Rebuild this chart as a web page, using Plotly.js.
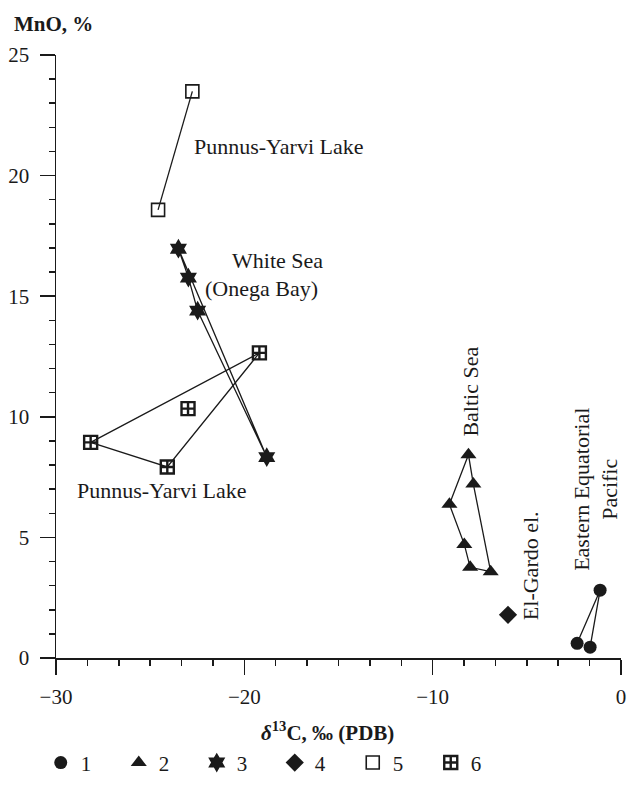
<!DOCTYPE html>
<html><head><meta charset="utf-8">
<script src="https://cdn.plot.ly/plotly-3.0.1.min.js"></script>
<style>html,body{margin:0;padding:0;background:#fff;}#chart{width:627px;height:790px;}</style>
</head><body><div id="chart"></div>
<script>
// Series 1: Eastern Equatorial Pacific (filled circles)
const s1x = [-2.33, -1.11, -1.64];
const s1y = [0.61, 2.81, 0.45];
const s1path = [0, 1, 2];
// Series 2: Baltic Sea (filled triangles)
const s2x = [-8.10, -7.84, -6.92, -8.01, -8.32, -9.11];
const s2y = [8.43, 7.21, 3.58, 3.76, 4.71, 6.37];
const s2path = [0, 1, 2, 3, 4, 5, 0];
// Series 3: White Sea, Onega Bay (six-pointed stars)
const s3x = [-23.50, -22.97, -22.48, -18.81];
const s3y = [16.97, 15.77, 14.40, 8.33];
const s3path = [0, 1, 2, 3, 0];
// Series 4: El-Gardo el. (diamond)
const s4x = [-6.00];
const s4y = [1.79];
const s4path = [];
// Series 5: Punnus-Yarvi Lake (open squares)
const s5x = [-22.76, -24.58];
const s5y = [23.49, 18.58];
const s5path = [0, 1];
// Series 6: Punnus-Yarvi Lake (squares with cross)
const s6x = [-28.16, -19.20, -24.09, -22.99];
const s6y = [8.94, 12.65, 7.92, 10.34];
const s6path = [0, 1, 2, 0];

const seriesNames = ['1', '2', '3', '4', '5', '6'];
const xTickVals = [-30, -20, -10, 0];
const yTickVals = [0, 5, 10, 15, 20, 25];

const labelTexts = ['Punnus-Yarvi Lake', 'White Sea', '(Onega Bay)', 'Punnus-Yarvi Lake',
  'Baltic Sea', 'El-Gardo el.', 'Eastern Equatorial<br>Pacific'];
const labelX = [-22.78, -20.76, -22.19, -28.99, -8.01, -4.83, -1.37];
const labelY = [21.22, 16.47, 15.33, 6.94, 11.05, 3.81, 6.98];

const INK = '#1a1a1a';
const FONT = 'Liberation Serif, Times New Roman, serif';

const series = [
  {x: s1x, y: s1y, path: s1path, sym: 'circle', size: 13, lw: 0},
  {x: s2x, y: s2y, path: s2path, sym: 'triangle-up', size: 14, lw: 0},
  {x: s3x, y: s3y, path: s3path, sym: 'hexagram', size: 15, lw: 0},
  {x: s4x, y: s4y, path: s4path, sym: 'diamond', size: 14, lw: 0},
  {x: s5x, y: s5y, path: s5path, sym: 'square-open', size: 13, lw: 1.6},
  {x: s6x, y: s6y, path: s6path, sym: 'square-cross-open', size: 13, lw: 2.4}
];

const traces = [];
series.forEach((s, i) => {
  if (s.path.length) {
    traces.push({
      x: s.path.map(k => s.x[k]), y: s.path.map(k => s.y[k]),
      mode: 'lines', type: 'scatter', showlegend: false, hoverinfo: 'skip',
      line: {color: INK, width: 1.3}
    });
  }
});
series.forEach((s, i) => {
  traces.push({
    x: s.x, y: s.y, name: seriesNames[i], mode: 'markers', type: 'scatter',
    marker: {symbol: s.sym, size: s.size, color: INK, line: {color: INK, width: s.lw}}
  });
});

const annotations = labelTexts.map((t, i) => ({
  x: labelX[i], y: labelY[i], xref: 'x', yref: 'y', text: t, showarrow: false,
  xanchor: i < 4 ? 'left' : 'center', yanchor: 'middle',
  textangle: i >= 4 ? -90 : 0,
  font: {family: FONT, size: 22, color: INK}
}));
annotations.push({
  xref: 'paper', yref: 'paper', x: -0.078, y: 1.052, xanchor: 'left', yanchor: 'middle',
  text: '<b>MnO, %</b>', showarrow: false, font: {family: FONT, size: 21, color: INK}
});
annotations.push({
  xref: 'paper', yref: 'paper', x: 0.48, y: -0.122, xanchor: 'center', yanchor: 'middle',
  text: '<b><i>δ</i><sup>13</sup>C, ‰ (PDB)</b>', showarrow: false, font: {family: FONT, size: 21, color: INK}
});

const axisCommon = {
  showgrid: false, zeroline: false, showline: true, linecolor: INK, linewidth: 1.5,
  ticks: 'outside', ticklen: 15, tickwidth: 1.5, tickcolor: INK,
  tickfont: {family: FONT, size: 21, color: INK}
};

const layout = {
  width: 627, height: 790,
  margin: {l: 56, r: 6, t: 55, b: 119},
  paper_bgcolor: '#fff', plot_bgcolor: '#fff',
  xaxis: Object.assign({}, axisCommon, {
    range: [-30, 0], tickmode: 'array', tickvals: xTickVals, ticktext: xTickVals.map(v => v < 0 ? '\u2212' + Math.abs(v) : String(v)),
    minor: {tick0: -30, dtick: 10 / 6, ticks: 'outside', ticklen: 6, tickwidth: 1.5, tickcolor: INK, showgrid: false},
    ticklabelstandoff: 4
  }),
  yaxis: Object.assign({}, axisCommon, {
    range: [0, 25], tickmode: 'array', tickvals: yTickVals,
    minor: {tick0: 0, dtick: 1, ticks: 'outside', ticklen: 6, tickwidth: 1.5, tickcolor: INK, showgrid: false},
    ticklabelstandoff: 6
  }),
  showlegend: true,
  legend: {
    orientation: 'h', x: -0.027, xanchor: 'left', y: -0.174, yanchor: 'middle',
    entrywidth: 33, entrywidthmode: 'pixels', traceorder: 'normal',
    font: {family: FONT, size: 21, color: INK}, bgcolor: 'rgba(0,0,0,0)'
  },
  annotations: annotations
};

Plotly.newPlot('chart', traces, layout, {displayModeBar: false, staticPlot: true});
</script>
</body></html>
